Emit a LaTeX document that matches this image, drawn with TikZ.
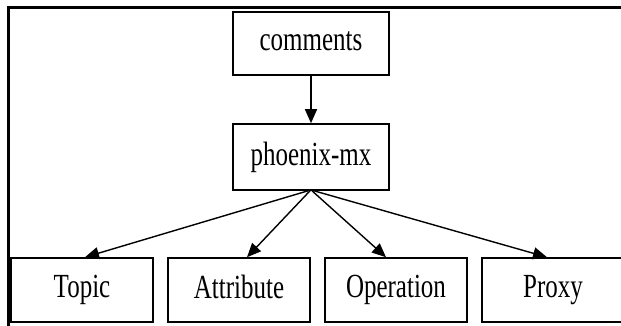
\documentclass[tikz,border=0pt]{standalone}
\usepackage{fontspec}
\setmainfont{Liberation Serif}
\usetikzlibrary{arrows.meta}
\newcommand{\lbl}[1]{\scalebox{1}[1.35]{\fontsize{25}{25}\selectfont #1\vphantom{Tpy}}}
\tikzset{
  box/.style={draw=black, line width=1.6pt, fill=white, minimum height=64pt, inner sep=0pt},
  conn/.style={draw=black, line width=1.4pt, -{Triangle[length=14pt,width=12pt]}},
  frameline/.style={draw=black, line width=3pt}
}
\begin{document}
\begin{tikzpicture}[x=1pt,y=-1pt]
\useasboundingbox (0,0) rectangle (621,325);
\clip (0,0) rectangle (621,325);
\fill[white] (0,0) rectangle (621,325);
\coordinate (ftl) at (8,7.5);
\coordinate (ftr) at (625,7.5);
\coordinate (fbl) at (8,330);
\draw[frameline] (fbl) -- (ftl) -- (ftr);
\node[box, minimum width=156pt, minimum height=63pt] (comments) at (311,43.5) {\lbl{comments}};
\node[box, minimum width=156pt, minimum height=66pt] (phoenix) at (311,157) {\lbl{phoenix-mx}};
\node[box, minimum width=142pt] (topic) at (82,290) {\lbl{Topic}};
\node[box, minimum width=142pt] (attribute) at (239,290) {\lbl{Attribute}};
\node[box, minimum width=142pt] (operation) at (396,290) {\lbl{Operation}};
\node[box, minimum width=142pt] (proxy) at (553,290) {\lbl{Proxy}};
\draw[conn] (comments.south) -- (phoenix.north);
\draw[conn] ([xshift=-3pt]phoenix.south) -- ([xshift=3pt]topic.north);
\draw[conn] ([xshift=-1pt]phoenix.south) -- ([xshift=8pt]attribute.north);
\draw[conn] ([xshift=1pt]phoenix.south) -- ([xshift=-10pt]operation.north);
\draw[conn] ([xshift=3pt]phoenix.south) -- ([xshift=-6pt]proxy.north);
\end{tikzpicture}
\end{document}
